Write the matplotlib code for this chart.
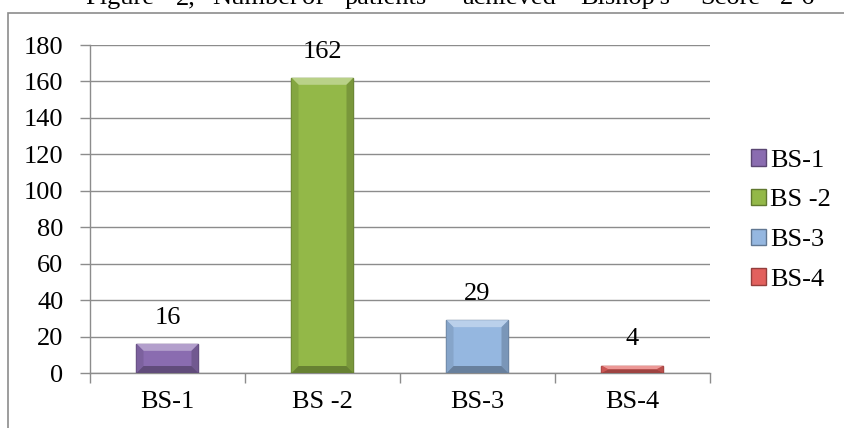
import matplotlib as mpl
mpl.use('Agg')
import matplotlib.pyplot as plt
from matplotlib.patches import Rectangle, Polygon
from matplotlib.colors import to_rgb

categories = ['BS-1', 'BS -2', 'BS-3', 'BS-4']
counts = [16, 162, 29, 4]
colors = ['#8A6CB0', '#93B848', '#95B7E0', '#E2605D']

# caption words (justified line, only its lower edge is on the page)
caption_words = ['Figure', '2,', 'Number', 'of', 'patients', 'achieved', "Bishop's", 'Score', '2-6']
caption_x = [85, 176, 212, 302, 345, 462, 580, 700, 780]

plt.rcParams['font.family'] = ['Liberation Serif', 'DejaVu Serif']
FS = 19


def shade(c, f):
    r, g, b = to_rgb(c)
    if f > 0:
        return (r + (1 - r) * f, g + (1 - g) * f, b + (1 - b) * f)
    return (r * (1 + f), g * (1 + f), b * (1 + f))


fig = plt.figure(figsize=(8.45, 4.28), dpi=100)
W, H = 845, 428

# outer frame of the chart object
fig.patches.append(Rectangle((8/W, -0.01), 1.02 - 8/W, 1 - 13/H + 0.01, transform=fig.transFigure,
                             fill=False, edgecolor='#8C8C8C', lw=1.2))
for wd, cx in zip(caption_words, caption_x):
    fig.text(cx/W, 1 - 4/H, wd, fontsize=FS, ha='left', va='baseline')

ax = fig.add_axes([90/W, 1 - 373/H, 620/W, 328/H])
x = list(range(len(categories)))
bw = 0.4
bars = ax.bar(x, counts, width=bw, color=colors, edgecolor=[shade(c, -0.35) for c in colors],
              lw=1.0, zorder=3)

# bevel facets on each bar
px_x = 4 / 620   # data units per pixel
px_y = 180 / 328
for xi, v, c in zip(x, counts, colors):
    l, r = xi - bw / 2, xi + bw / 2
    bx = min(7 * px_x, bw / 2)
    by = min(7 * px_y, v / 2)
    il, ir, ib, it = l + bx, r - bx, by, v - by
    facets = [([(l, v), (r, v), (ir, it), (il, it)], 0.35),
              ([(l, 0), (l, v), (il, it), (il, ib)], -0.1),
              ([(r, 0), (r, v), (ir, it), (ir, ib)], -0.18),
              ([(l, 0), (r, 0), (ir, ib), (il, ib)], -0.3)]
    for pts, f in facets:
        ax.add_patch(Polygon(pts, closed=True, facecolor=shade(c, f), edgecolor='none', zorder=3.5))

for xi, v in zip(x, counts):
    ax.annotate(str(v), (xi, v), xytext=(0, 11), textcoords='offset points',
                ha='center', va='bottom', fontsize=FS)

ax.set_xlim(-0.5, 3.5)
ax.set_ylim(0, 180)
ax.set_yticks(range(0, 181, 20))
ax.yaxis.grid(True, color='#8C8C8C', lw=1.0)
ax.set_axisbelow(True)
ax.set_xticks([-0.5, 0.5, 1.5, 2.5, 3.5])
ax.set_xticklabels([])
ax.set_xticks(x, minor=True)
ax.set_xticklabels(categories, minor=True)
ax.tick_params(axis='x', which='minor', length=0, labelsize=FS, pad=13)
ax.tick_params(axis='x', which='major', length=7, color='#8C8C8C', width=1.0)
ax.tick_params(axis='y', length=7, color='#8C8C8C', width=1.0, labelsize=FS, pad=12)
for s in ['top', 'right']:
    ax.spines[s].set_visible(False)
for s in ['left', 'bottom']:
    ax.spines[s].set_color('#8C8C8C')
    ax.spines[s].set_linewidth(1.0)

leg = fig.legend(bars, categories, loc='center left', bbox_to_anchor=(740/W, 1 - 220/H),
                 frameon=False, fontsize=FS, handlelength=0.6, handleheight=0.6,
                 handletextpad=0.15, labelspacing=0.65, borderaxespad=0)

plt.savefig('out.png', dpi=100, facecolor='w')
